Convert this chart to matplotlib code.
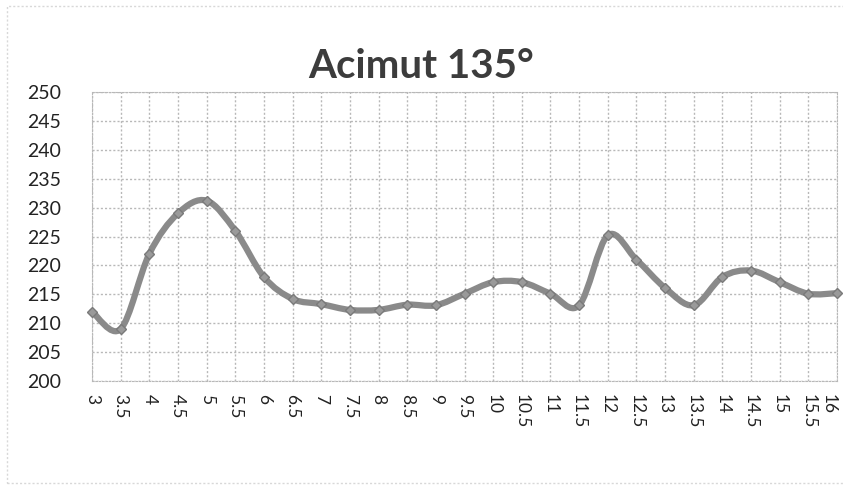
import matplotlib
matplotlib.use("Agg")
import matplotlib.pyplot as plt
from matplotlib.path import Path
from matplotlib.patches import PathPatch, Rectangle
import numpy as np

title = "Acimut 135°"
x_values = [3, 3.5, 4, 4.5, 5, 5.5, 6, 6.5, 7, 7.5, 8, 8.5, 9, 9.5, 10,
            10.5, 11, 11.5, 12, 12.5, 13, 13.5, 14, 14.5, 15, 15.5, 16]
y_values = [212, 209, 222, 229, 231.2, 226, 218, 214.2, 213.3, 212.3, 212.3, 213.2, 213.1, 215.1, 217.1,
            217.1, 215.1, 213.1, 225.2, 221, 216.1, 213.1, 218, 219.1, 217.1, 215.1, 215.2]
x_tick_labels = [f"{v:g}" for v in x_values]
y_ticks = list(range(200, 251, 5))

plt.rcParams['font.family'] = ['Lato', 'DejaVu Sans']

fig = plt.figure(figsize=(8.43, 4.86), dpi=100)
ax = fig.add_axes([92/843, 1 - 381/486, (837-92)/843, (381-92)/486])

# smoothed line (Excel-like Bezier through the data points)
pts = np.column_stack([x_values, y_values])
n = len(pts)
verts = [tuple(pts[0])]
codes = [Path.MOVETO]
t = 1/6
for i in range(n - 1):
    p0 = pts[i - 1] if i > 0 else pts[i]
    p1 = pts[i]
    p2 = pts[i + 1]
    p3 = pts[i + 2] if i + 2 < n else pts[i + 1]
    c1 = p1 + (p2 - p0) * t
    c2 = p2 - (p3 - p1) * t
    verts += [tuple(c1), tuple(c2), tuple(p2)]
    codes += [Path.CURVE4] * 3
line_color = '#8a8a8a'
ax.add_patch(PathPatch(Path(verts, codes), facecolor='none', edgecolor=line_color,
                       lw=4.5, capstyle='round', joinstyle='round', zorder=3, clip_on=False))
ax.plot(x_values, y_values, linestyle='none', marker='D', markersize=5,
        color='#9a9a9a', markeredgecolor='#7a7a7a', zorder=4, clip_on=False)

ax.set_xlim(3, 16)
ax.set_ylim(200, 250)
ax.set_xticks(x_values)
ax.set_xticklabels(x_tick_labels, rotation=-90, fontsize=12.5, color='#222222')
ax.get_xticklabels()[-1].set_horizontalalignment('right')
ax.set_yticks(y_ticks)
ax.set_yticklabels([str(v) for v in y_ticks], fontsize=14, color='#222222')
ax.tick_params(length=0)
ax.tick_params(axis='y', pad=22)
ax.tick_params(axis='x', pad=9)
ax.grid(True, color='#b8b8b8', linestyle=(0, (1.5, 1.5)), linewidth=1)
for s in ax.spines.values():
    s.set_color('#b8b8b8')
    s.set_linestyle((0, (1.5, 1.5)))
ax.set_axisbelow(True)

fig.text(421/843, 1 - 66/486, title, ha='center', va='center', fontsize=29,
         fontweight='bold', color='#3c3c3c')

fig.patches.append(Rectangle((7/843, 3/486), 1.0, 1 - 9/486, transform=fig.transFigure,
                             fill=False, edgecolor='#d8d8d8', lw=1, linestyle=(0, (1.5, 1.5))))

fig.savefig('out.png', dpi=100)
